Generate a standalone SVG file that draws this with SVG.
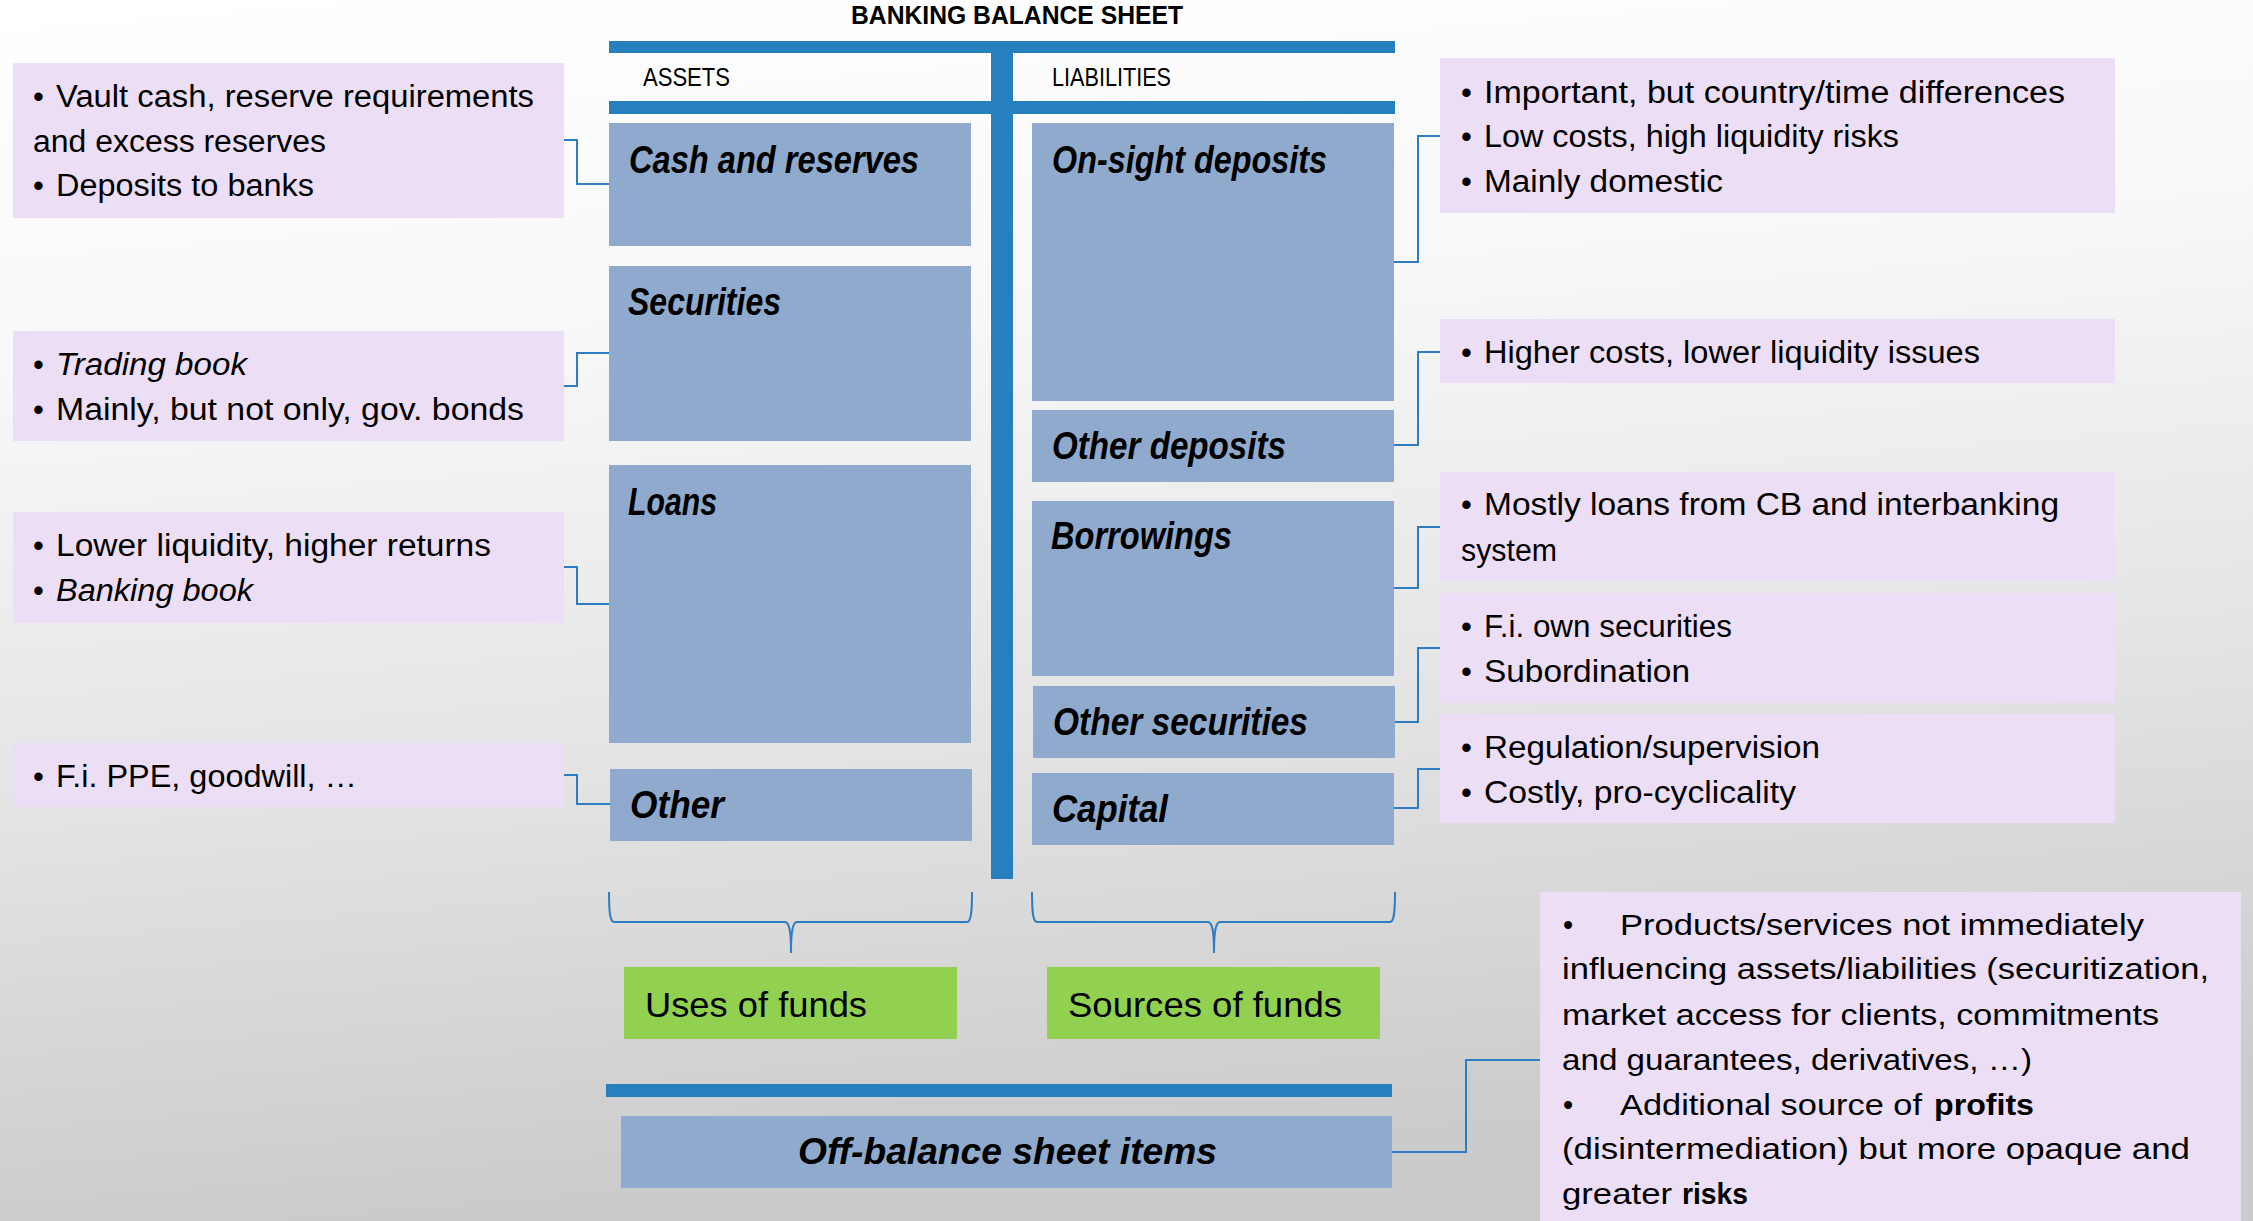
<svg xmlns="http://www.w3.org/2000/svg" width="2253" height="1221" viewBox="0 0 2253 1221">
<defs>
<linearGradient id="bg" x1="0" y1="0" x2="0.15" y2="1">
<stop offset="0" stop-color="#ffffff"/>
<stop offset="0.3" stop-color="#f8f8f8"/>
<stop offset="0.65" stop-color="#e4e4e4"/>
<stop offset="1" stop-color="#cbcbcb"/>
</linearGradient>
<style>
.bar{fill:#2680C0}
.box{fill:#8FAACC}
.note{fill:#ECDEF4}
.green{fill:#92D050}
.conn{fill:none;stroke:#2E7DC2;stroke-width:2}
text{font-family:"Liberation Sans",Arial,sans-serif;fill:#000}
.title{font-size:25px;font-weight:bold}
.hdr{font-size:26px}
.lbl{font-size:38px;font-weight:bold;font-style:italic}
.t{font-size:31px}
.it{font-style:italic}
.fund{font-size:35px}
.ob{font-size:36px;font-weight:bold;font-style:italic}
.big{font-size:29px}
.b{font-weight:bold}
</style>
</defs>
<rect x="0" y="0" width="2253" height="1221" fill="url(#bg)"/>

<text class="title" x="851" y="24" textLength="332" lengthAdjust="spacingAndGlyphs">BANKING BALANCE SHEET</text>

<g id="taccount">
<rect class="bar" x="609" y="41" width="786" height="12"/>
<rect class="bar" x="609" y="101" width="786" height="13"/>
<rect class="bar" x="991" y="41" width="22" height="838"/>
<text class="hdr" x="643" y="86" textLength="87" lengthAdjust="spacingAndGlyphs">ASSETS</text>
<text class="hdr" x="1052" y="86" textLength="119" lengthAdjust="spacingAndGlyphs">LIABILITIES</text>
</g>

<g id="cash"><rect class="box" x="609" y="123" width="362" height="123"/><text class="lbl" x="629" y="173" textLength="290" lengthAdjust="spacingAndGlyphs">Cash and reserves</text></g>
<g id="securities"><rect class="box" x="609" y="266" width="362" height="175"/><text class="lbl" x="628" y="315" textLength="153" lengthAdjust="spacingAndGlyphs">Securities</text></g>
<g id="loans"><rect class="box" x="609" y="465" width="362" height="278"/><text class="lbl" x="628" y="515" textLength="89" lengthAdjust="spacingAndGlyphs">Loans</text></g>
<g id="other"><rect class="box" x="610" y="769" width="362" height="72"/><text class="lbl" x="630" y="818" textLength="94" lengthAdjust="spacingAndGlyphs">Other</text></g>

<g id="onsight"><rect class="box" x="1032" y="123" width="362" height="278"/><text class="lbl" x="1052" y="173" textLength="275" lengthAdjust="spacingAndGlyphs">On-sight deposits</text></g>
<g id="otherdep"><rect class="box" x="1032" y="410" width="362" height="72"/><text class="lbl" x="1052" y="459" textLength="234" lengthAdjust="spacingAndGlyphs">Other deposits</text></g>
<g id="borrowings"><rect class="box" x="1032" y="501" width="362" height="175"/><text class="lbl" x="1051" y="549" textLength="181" lengthAdjust="spacingAndGlyphs">Borrowings</text></g>
<g id="othersec"><rect class="box" x="1033" y="686" width="362" height="72"/><text class="lbl" x="1053" y="735" textLength="255" lengthAdjust="spacingAndGlyphs">Other securities</text></g>
<g id="capital"><rect class="box" x="1032" y="773" width="362" height="72"/><text class="lbl" x="1052" y="822" textLength="116" lengthAdjust="spacingAndGlyphs">Capital</text></g>

<g id="note-cash"><rect class="note" x="13" y="63" width="551" height="155"/>
<text class="t" x="33" y="107">•</text><text class="t" x="56" y="107" textLength="478" lengthAdjust="spacingAndGlyphs">Vault cash, reserve requirements</text>
<text class="t" x="33" y="152" textLength="293" lengthAdjust="spacingAndGlyphs">and excess reserves</text>
<text class="t" x="33" y="196">•</text><text class="t" x="56" y="196" textLength="258" lengthAdjust="spacingAndGlyphs">Deposits to banks</text></g>

<g id="note-sec"><rect class="note" x="13" y="331" width="551" height="110"/>
<text class="t" x="33" y="375">•</text><text class="t it" x="56" y="375" textLength="191" lengthAdjust="spacingAndGlyphs">Trading book</text>
<text class="t" x="33" y="420">•</text><text class="t" x="56" y="420" textLength="468" lengthAdjust="spacingAndGlyphs">Mainly, but not only, gov. bonds</text></g>

<g id="note-loans"><rect class="note" x="13" y="512" width="551" height="111"/>
<text class="t" x="33" y="556">•</text><text class="t" x="56" y="556" textLength="435" lengthAdjust="spacingAndGlyphs">Lower liquidity, higher returns</text>
<text class="t" x="33" y="601">•</text><text class="t it" x="56" y="601" textLength="197" lengthAdjust="spacingAndGlyphs">Banking book</text></g>

<g id="note-other"><rect class="note" x="13" y="743" width="551" height="64"/>
<text class="t" x="33" y="787">•</text><text class="t" x="56" y="787" textLength="301" lengthAdjust="spacingAndGlyphs">F.i. PPE, goodwill, …</text></g>

<g id="note-onsight"><rect class="note" x="1440" y="58" width="675" height="155"/>
<text class="t" x="1461" y="103">•</text><text class="t" x="1484" y="103" textLength="581" lengthAdjust="spacingAndGlyphs">Important, but country/time differences</text>
<text class="t" x="1461" y="147">•</text><text class="t" x="1484" y="147" textLength="415" lengthAdjust="spacingAndGlyphs">Low costs, high liquidity risks</text>
<text class="t" x="1461" y="192">•</text><text class="t" x="1484" y="192" textLength="239" lengthAdjust="spacingAndGlyphs">Mainly domestic</text></g>

<g id="note-otherdep"><rect class="note" x="1440" y="319" width="675" height="64"/>
<text class="t" x="1461" y="363">•</text><text class="t" x="1484" y="363" textLength="496" lengthAdjust="spacingAndGlyphs">Higher costs, lower liquidity issues</text></g>

<g id="note-borrow"><rect class="note" x="1440" y="472" width="675" height="109"/>
<text class="t" x="1461" y="515">•</text><text class="t" x="1484" y="515" textLength="575" lengthAdjust="spacingAndGlyphs">Mostly loans from CB and interbanking</text>
<text class="t" x="1461" y="561" textLength="96" lengthAdjust="spacingAndGlyphs">system</text></g>

<g id="note-othersec"><rect class="note" x="1440" y="593" width="675" height="110"/>
<text class="t" x="1461" y="637">•</text><text class="t" x="1484" y="637" textLength="248" lengthAdjust="spacingAndGlyphs">F.i. own securities</text>
<text class="t" x="1461" y="682">•</text><text class="t" x="1484" y="682" textLength="206" lengthAdjust="spacingAndGlyphs">Subordination</text></g>

<g id="note-capital"><rect class="note" x="1440" y="714" width="675" height="109"/>
<text class="t" x="1461" y="758">•</text><text class="t" x="1484" y="758" textLength="336" lengthAdjust="spacingAndGlyphs">Regulation/supervision</text>
<text class="t" x="1461" y="803">•</text><text class="t" x="1484" y="803" textLength="312" lengthAdjust="spacingAndGlyphs">Costly, pro-cyclicality</text></g>

<g id="uses"><rect class="green" x="624" y="967" width="333" height="72"/><text class="fund" x="645" y="1017" textLength="222" lengthAdjust="spacingAndGlyphs">Uses of funds</text></g>
<g id="sources"><rect class="green" x="1047" y="967" width="333" height="72"/><text class="fund" x="1068" y="1017" textLength="274" lengthAdjust="spacingAndGlyphs">Sources of funds</text></g>

<g id="offbalance">
<rect class="bar" x="606" y="1084" width="786" height="13"/>
<rect class="box" x="621" y="1116" width="771" height="72"/>
<text class="ob" x="798" y="1164" textLength="419" lengthAdjust="spacingAndGlyphs">Off-balance sheet items</text>
</g>

<g id="note-offbalance"><rect class="note" x="1540" y="892" width="701" height="340"/>
<text class="big" x="1563" y="935">•</text><text class="big" x="1620" y="935" textLength="524" lengthAdjust="spacingAndGlyphs">Products/services not immediately</text>
<text class="big" x="1562" y="979" textLength="647" lengthAdjust="spacingAndGlyphs">influencing assets/liabilities (securitization,</text>
<text class="big" x="1562" y="1025" textLength="597" lengthAdjust="spacingAndGlyphs">market access for clients, commitments</text>
<text class="big" x="1562" y="1070" textLength="470" lengthAdjust="spacingAndGlyphs">and guarantees, derivatives, …)</text>
<text class="big" x="1563" y="1115">•</text><text class="big" x="1620" y="1115" textLength="302" lengthAdjust="spacingAndGlyphs">Additional source of</text><text class="big b" x="1934" y="1115" textLength="100" lengthAdjust="spacingAndGlyphs">profits</text>
<text class="big" x="1562" y="1159" textLength="628" lengthAdjust="spacingAndGlyphs">(disintermediation) but more opaque and</text>
<text class="big" x="1562" y="1204" textLength="110" lengthAdjust="spacingAndGlyphs">greater</text><text class="big b" x="1682" y="1204" textLength="66" lengthAdjust="spacingAndGlyphs">risks</text>
</g>

<g id="connectors">
<polyline class="conn" points="564,140 577,140 577,184 609,184"/>
<polyline class="conn" points="564,386 577,386 577,353 609,353"/>
<polyline class="conn" points="564,567 577,567 577,604 609,604"/>
<polyline class="conn" points="564,775 577,775 577,804 610,804"/>
<polyline class="conn" points="1394,262 1418,262 1418,136 1440,136"/>
<polyline class="conn" points="1394,445 1418,445 1418,352 1440,352"/>
<polyline class="conn" points="1394,588 1418,588 1418,527 1440,527"/>
<polyline class="conn" points="1395,722 1418,722 1418,648 1440,648"/>
<polyline class="conn" points="1394,808 1418,808 1418,769 1440,769"/>
<polyline class="conn" points="1392,1152 1466,1152 1466,1060 1540,1060"/>
<path class="conn" d="M609 892 C609 912 610 922 614 922 L785 922 C789 922 791 930 791 953 C791 930 793 922 797 922 L967 922 C971 922 972 912 972 892"/>
<path class="conn" d="M1032 892 C1032 912 1033 922 1037 922 L1208 922 C1212 922 1214 930 1214 953 C1214 930 1216 922 1220 922 L1390 922 C1394 922 1395 912 1395 892"/>
</g>
</svg>
